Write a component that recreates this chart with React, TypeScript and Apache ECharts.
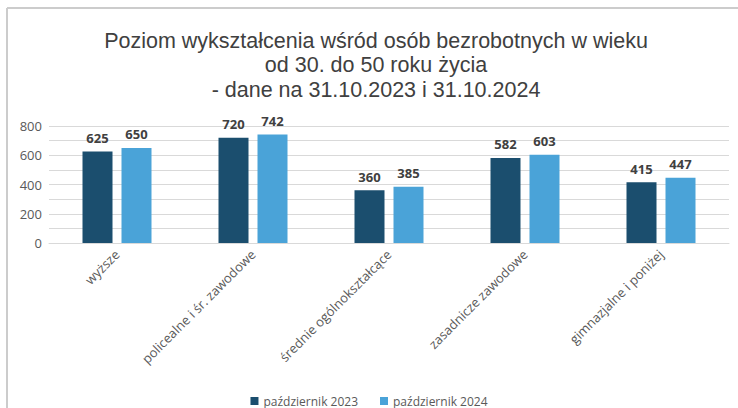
import React, { useEffect, useRef } from "react";
import * as echarts from "echarts";

const categories = [
  "wyższe",
  "policealne i śr. zawodowe",
  "średnie ogólnokształcące",
  "zasadnicze zawodowe",
  "gimnazjalne i poniżej",
];
const series2023 = [625, 720, 360, 582, 415];
const series2024 = [650, 742, 385, 603, 447];
const seriesNames = ["październik 2023", "październik 2024"];
const titleLines = [
  "Poziom wykształcenia wśród osób bezrobotnych w wieku",
  "od 30. do 50 roku życia",
  "- dane na 31.10.2023 i 31.10.2024",
];

const FONT = "Open Sans";
const TITLE_FONT = "Liberation Sans";

export default function App() {
  const ref = useRef<HTMLDivElement>(null);
  useEffect(() => {
    if (!ref.current) return;
    const chart = echarts.init(ref.current, null, { renderer: "svg" });
    const labelStyle = {
      show: true,
      position: "top",
      distance: 7,
      fontFamily: FONT,
      fontSize: 13,
      fontWeight: "bold",
      color: "#404040",
    };
    chart.setOption({
      animation: false,
      backgroundColor: "#ffffff",
      textStyle: { fontFamily: FONT },
      graphic: [
        {
          type: "line",
          shape: { x1: 7, y1: 8, x2: 738, y2: 8 },
          style: { stroke: "#cccccc", lineWidth: 2 },
        },
        {
          type: "line",
          shape: { x1: 7, y1: 8, x2: 7, y2: 408 },
          style: { stroke: "#cccccc", lineWidth: 2 },
        },
        {
          type: "text",
          x: 376,
          y: 29,
          style: {
            text: titleLines.join("\n"),
            fontFamily: TITLE_FONT,
            fontSize: 21.5,
            lineHeight: 24.2,
            fill: "#404040",
            textAlign: "center",
            textVerticalAlign: "top",
          },
        },
      ],
      legend: {
        bottom: 1,
        padding: [0, 5, 0, 5],
        left: "center",
        icon: "rect",
        itemWidth: 8,
        itemHeight: 8,
        itemGap: 22,
        textStyle: { fontFamily: FONT, fontSize: 12, color: "#595959" },
        data: seriesNames,
      },
      grid: { left: 49, right: 9, top: 126, height: 117, containLabel: false },
      xAxis: {
        type: "category",
        data: categories,
        axisTick: { show: false },
        axisLine: { lineStyle: { color: "#d9d9d9" } },
        axisLabel: {
          rotate: 45,
          margin: 9,
          interval: 0,
          fontFamily: FONT,
          fontSize: 13,
          color: "#595959",
        },
      },
      yAxis: {
        type: "value",
        min: 0,
        max: 800,
        interval: 100,
        axisLine: { show: false },
        axisTick: { show: false },
        splitLine: { lineStyle: { color: "#d9d9d9" } },
        axisLabel: {
          fontFamily: FONT,
          fontSize: 13,
          color: "#595959",
          margin: 7,
          formatter: (v: number) => (v % 200 === 0 ? String(v) : ""),
        },
      },
      series: [
        {
          name: seriesNames[0],
          type: "bar",
          data: series2023,
          barWidth: 30,
          barGap: "30%",
          itemStyle: { color: "#1b4e6e" },
          label: labelStyle,
        },
        {
          name: seriesNames[1],
          type: "bar",
          data: series2024,
          barWidth: 30,
          itemStyle: { color: "#4aa3d8" },
          label: labelStyle,
        },
      ],
    });
    return () => chart.dispose();
  }, []);
  return (
    <div
      ref={ref}
      style={{ position: "fixed", left: 0, top: 0, width: 738, height: 408 }}
    />
  );
}
